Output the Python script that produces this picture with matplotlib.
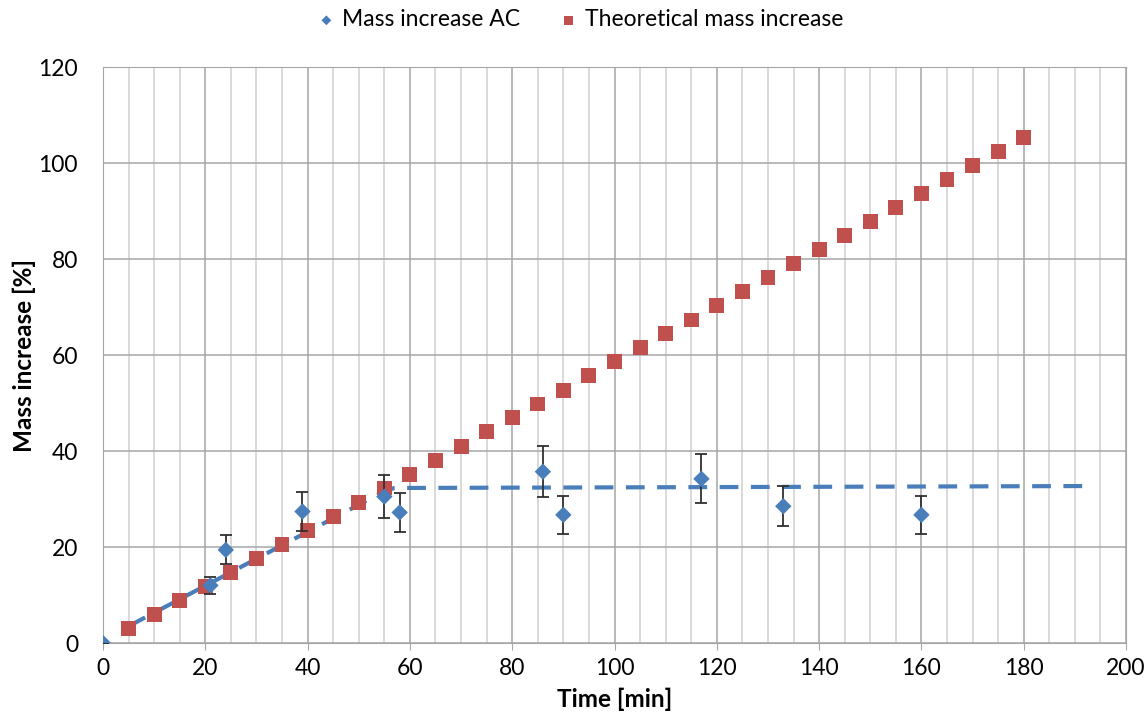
import matplotlib.pyplot as plt
from matplotlib.ticker import MultipleLocator

# --- Data ---
ac_time = [0, 21, 24, 39, 55, 58, 86, 90, 117, 133, 160]
ac_mass = [0, 12.0, 19.4, 27.4, 30.5, 27.2, 35.7, 26.7, 34.2, 28.5, 26.7]
ac_err = [0, 1.8, 3.0, 4.1, 4.5, 4.0, 5.3, 4.0, 5.1, 4.2, 4.0]

fit_time = [5, 55, 57, 192]
fit_mass = [3.5, 31.6, 32.3, 32.7]

theo_time = [5, 10, 15, 20, 25, 30, 35, 40, 45, 50, 55, 60, 65, 70, 75, 80, 85, 90,
             95, 100, 105, 110, 115, 120, 125, 130, 135, 140, 145, 150, 155, 160,
             165, 170, 175, 180]
theo_mass = [3.0, 5.9, 8.9, 11.8, 14.7, 17.6, 20.6, 23.5, 26.4, 29.3, 32.3, 35.2,
             38.1, 41.0, 44.0, 46.9, 49.8, 52.7, 55.7, 58.6, 61.5, 64.4, 67.3, 70.3,
             73.2, 76.1, 79.0, 81.9, 84.9, 87.8, 90.7, 93.6, 96.6, 99.5, 102.4, 105.3]

BLUE = "#4A7EBB"
RED = "#C0504D"

plt.rcParams['font.family'] = ['Lato', 'DejaVu Sans']

fig = plt.figure(figsize=(11.47, 7.26), dpi=100)
ax = fig.add_axes([0.0898, 0.1143, 0.8919, 0.7934])

# grid
ax.xaxis.set_major_locator(MultipleLocator(20))
ax.xaxis.set_minor_locator(MultipleLocator(5))
ax.yaxis.set_major_locator(MultipleLocator(20))
ax.grid(which='major', axis='both', color='#A6A6A6', lw=1.1, zorder=0)
ax.grid(which='minor', axis='x', color='#D0D0D0', lw=1.1, zorder=0)

ax.plot(fit_time, fit_mass, ls=(0, (4.5, 3)), color=BLUE, lw=3, zorder=3)
ax.scatter(theo_time, theo_mass, marker='s', s=115, color=RED, zorder=4,
           label='Theoretical mass increase', edgecolors='none')
ax.errorbar(ac_time, ac_mass, yerr=ac_err, fmt='none', ecolor='#303030',
            elinewidth=1.3, capsize=4.5, capthick=1.3, zorder=5)
ax.scatter(ac_time, ac_mass, marker='D', s=70, color=BLUE, zorder=6,
           label='Mass increase AC', edgecolors='none')

ax.set_xlim(0, 200)
ax.set_ylim(0, 120)

for s in ax.spines.values():
    s.set_color('#A6A6A6')
ax.tick_params(axis='both', which='major', labelsize=16.5, length=5, color='#A6A6A6',
               labelcolor='#000000')
ax.tick_params(axis='x', which='minor', length=0)
ax.tick_params(axis='y', pad=18, length=0)
ax.tick_params(axis='x', pad=6)

ax.set_xlabel('Time [min]', fontsize=17.5, fontweight='bold', labelpad=6)
ax.set_ylabel('Mass increase [%]', fontsize=17.5, fontweight='bold', labelpad=2)

h, l = ax.get_legend_handles_labels()
leg = ax.legend(h[::-1], l[::-1], loc='lower center', bbox_to_anchor=(0.463, 1.0),
                ncol=2, frameon=False, fontsize=16.5, handletextpad=0.0,
                handlelength=1.4, columnspacing=1.4, markerscale=0.6, borderaxespad=1.2)

fig.savefig('out.png', dpi=100)
